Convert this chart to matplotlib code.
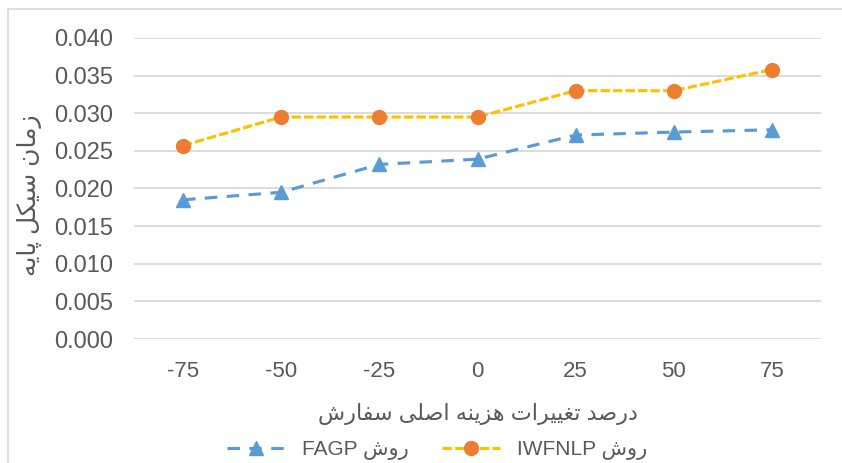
import numpy as np
import matplotlib
matplotlib.use('Agg')
import matplotlib.pyplot as plt
from matplotlib.patches import Rectangle

plt.rcParams['font.family'] = ['Liberation Sans', 'DejaVu Sans']

# data
categories = ['-75', '-50', '-25', '0', '25', '50', '75']
fagp = [0.0185, 0.0195, 0.0232, 0.0239, 0.0271, 0.0275, 0.0278]
iwfnlp = [0.0257, 0.0295, 0.0295, 0.0295, 0.0330, 0.0330, 0.0358]

ylabel_fa = 'زمان سیکل پایه'
xlabel_fa = 'درصد تغییرات هزینه اصلی سفارش'
method_fa = 'روش'

# simple persian shaping (no arabic_reshaper available)
# char: (isolated, final, initial, medial)
FORMS = {
    'ا': ('\uFE8D', '\uFE8E', None, None),
    'د': ('\uFEA9', '\uFEAA', None, None),
    'ر': ('\uFEAD', '\uFEAE', None, None),
    'ز': ('\uFEAF', '\uFEB0', None, None),
    'و': ('\uFEED', '\uFEEE', None, None),
    'ت': ('\uFE95', '\uFE96', '\uFE97', '\uFE98'),
    'س': ('\uFEB1', '\uFEB2', '\uFEB3', '\uFEB4'),
    'ش': ('\uFEB5', '\uFEB6', '\uFEB7', '\uFEB8'),
    'ص': ('\uFEB9', '\uFEBA', '\uFEBB', '\uFEBC'),
    'غ': ('\uFECD', '\uFECE', '\uFECF', '\uFED0'),
    'ف': ('\uFED1', '\uFED2', '\uFED3', '\uFED4'),
    'ل': ('\uFEDD', '\uFEDE', '\uFEDF', '\uFEE0'),
    'م': ('\uFEE1', '\uFEE2', '\uFEE3', '\uFEE4'),
    'ن': ('\uFEE5', '\uFEE6', '\uFEE7', '\uFEE8'),
    'ه': ('\uFEE9', '\uFEEA', '\uFEEB', '\uFEEC'),
    'پ': ('\uFB56', '\uFB57', '\uFB58', '\uFB59'),
    'ک': ('\uFB8E', '\uFB8F', '\uFB90', '\uFB91'),
    'ی': ('\uFBFC', '\uFBFD', '\uFBFE', '\uFBFF'),
}


def shape(s):
    out = []
    for i, ch in enumerate(s):
        if ch not in FORMS:
            out.append(ch)
            continue
        iso, fin, ini, med = FORMS[ch]
        prev = s[i - 1] if i > 0 else ''
        nxt = s[i + 1] if i + 1 < len(s) else ''
        jp = prev in FORMS and FORMS[prev][2] is not None
        jn = ini is not None and nxt in FORMS
        if jp and jn:
            out.append(med)
        elif jp:
            out.append(fin)
        elif jn:
            out.append(ini)
        else:
            out.append(iso)
    return ''.join(reversed(out))


grid_c = '#D9D9D9'
text_c = '#595959'
blue = '#5B9BD5'
orange = '#ED7D31'
yellow = '#FFC000'

W, H = 842, 463
fig = plt.figure(figsize=(W / 100, H / 100), dpi=100)
ax = fig.add_axes([134 / W, 1 - 339 / H, (821 - 134) / W, (339 - 38) / H])

# chart frame
fig.patches.append(Rectangle((8 / W, -0.1), 1.2, 1 - 9 / H + 0.1,
                             transform=fig.transFigure, fill=False,
                             edgecolor=grid_c, lw=1.2))

x = np.arange(len(categories))
l1, = ax.plot(x, fagp, color=blue, lw=2.25, dashes=(4, 3),
              marker='^', ms=10, mfc=blue, mec=blue, label='FAGP ' + shape(method_fa))
l2, = ax.plot(x, iwfnlp, color=yellow, lw=2.25, dashes=(3, 1),
              marker='o', ms=10, mfc=orange, mec=orange, label='IWFNLP ' + shape(method_fa))

ax.set_xlim(-0.5, len(categories) - 0.5)
ax.set_ylim(0, 0.04)
ax.set_yticks(np.arange(0, 0.0401, 0.005))
ax.yaxis.set_major_formatter(matplotlib.ticker.FormatStrFormatter('%.3f'))
ax.set_xticks(x)
ax.set_xticklabels(categories)
ax.grid(axis='y', color=grid_c, lw=1.3)
ax.set_axisbelow(True)
for s in ax.spines.values():
    s.set_visible(False)
ax.tick_params(axis='both', length=0, colors=text_c)
ax.tick_params(axis='y', labelsize=17, pad=15)
ax.tick_params(axis='x', labelsize=16, pad=16)

fig.text(29 / W, 1 - 195 / H, shape(ylabel_fa), rotation=90, ha='center', va='center',
         fontsize=18, color=text_c)
fig.text(478 / W, 1 - 414 / H, shape(xlabel_fa), ha='center', va='center',
         fontsize=16, color=text_c)

fig.legend(handles=[l1, l2], loc='center', bbox_to_anchor=(437 / W, 1 - 450 / H),
           ncol=2, frameon=False, fontsize=15, labelcolor=text_c,
           handlelength=2.8, handletextpad=0.8, columnspacing=1.6)

fig.savefig('out.png', dpi=100)
